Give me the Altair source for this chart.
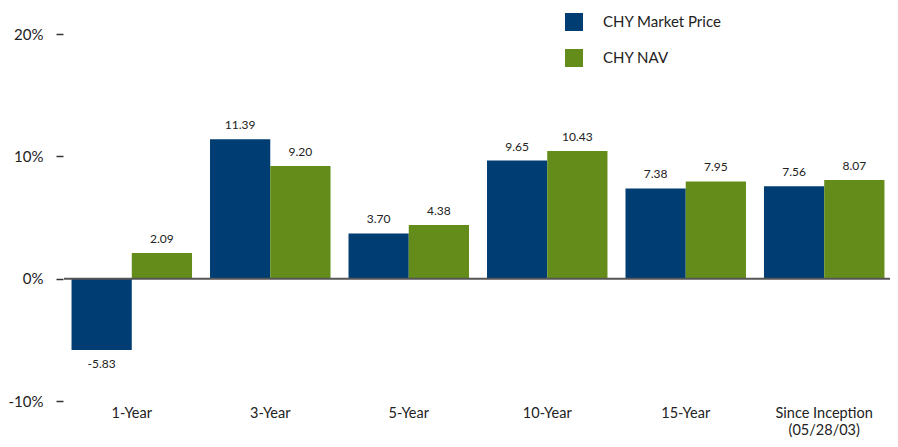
import altair as alt
import pandas as pd

categories = ["1-Year", "3-Year", "5-Year", "10-Year", "15-Year", "Since Inception|(05/28/03)"]
series = ["CHY Market Price", "CHY NAV"]
market_price = [-5.83, 11.39, 3.70, 9.65, 7.38, 7.56]
nav = [2.09, 9.20, 4.38, 10.43, 7.95, 8.07]
colors = ["#003D73", "#648C1A"]
y_ticks = [-10, 0, 10, 20]

rows = []
for c, m, n in zip(categories, market_price, nav):
    rows.append({"cat": c, "series": series[0], "value": m, "label": f"{m:.2f}"})
    rows.append({"cat": c, "series": series[1], "value": n, "label": f"{n:.2f}"})
df = pd.DataFrame(rows)

FONT = "Lato"

x_enc = alt.X("cat:N", sort=categories, title=None,
              scale=alt.Scale(paddingInner=0.13, paddingOuter=0.04),
              axis=alt.Axis(labelAngle=0, domain=False, ticks=False, labelPadding=5,
                            labelFontSize=14.5, labelColor="#222", labelFont=FONT,
                            labelLineHeight=17,
                            labelExpr="split(datum.label, '|')"))
y_scale = alt.Scale(domain=[-10, 20], nice=False)

base = alt.Chart(df).encode(x=x_enc, xOffset=alt.XOffset("series:N", sort=series))

bars = base.mark_bar().encode(
    y=alt.Y("value:Q", scale=y_scale, title=None,
            axis=alt.Axis(values=y_ticks, labelExpr="datum.value + '%'", grid=False,
                          domain=False, tickSize=7, tickColor="#333", tickWidth=1.5,
                          offset=3, labelPadding=13, labelFontSize=15,
                          labelColor="#222", labelFont=FONT)),
    color=alt.Color("series:N", sort=series,
                    scale=alt.Scale(domain=series, range=colors),
                    legend=alt.Legend(title=None, orient="none", legendX=499, legendY=-21,
                                      symbolType="square", symbolSize=324,
                                      symbolStrokeWidth=0, labelFontSize=15,
                                      labelFont=FONT, labelColor="#222",
                                      labelOffset=20, rowPadding=18, padding=0)),
)

pos_labels = base.mark_text(baseline="bottom", dy=-7, fontSize=12, font=FONT, color="#222").encode(
    y=alt.Y("value:Q", scale=y_scale), text="label:N"
).transform_filter("datum.value >= 0")

neg_labels = base.mark_text(baseline="top", dy=9, fontSize=12, font=FONT, color="#222").encode(
    y=alt.Y("value:Q", scale=y_scale), text="label:N"
).transform_filter("datum.value < 0")

zero = alt.Chart(pd.DataFrame({"z": [0]})).mark_rule(color="#555", strokeWidth=2).encode(
    y=alt.Y("z:Q", scale=y_scale), x=alt.value(-2), x2=alt.value(824)
)

chart = alt.layer(bars, zero, pos_labels, neg_labels).properties(
    width=824, height=367,
    padding={"left": 58, "top": 26, "right": 0, "bottom": 38},
    autosize=alt.AutoSizeParams(type="none"),
).configure_view(stroke=None)

chart.save("out.html", embed_options={"renderer": "svg", "actions": False})
